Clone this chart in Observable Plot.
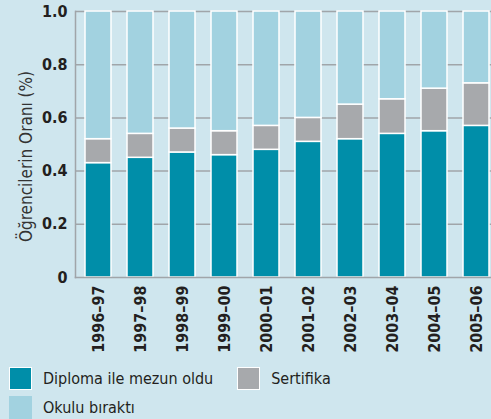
<!DOCTYPE html>
<html>
<head>
<meta charset="utf-8">
<script src="https://cdn.jsdelivr.net/npm/d3@7"></script>
<script src="https://cdn.jsdelivr.net/npm/@observablehq/plot@0.6"></script>
<style>
  html, body { margin: 0; padding: 0; background: #cfe6ee; }
  body { width: 491px; height: 419px; overflow: hidden; font-family: "DejaVu Sans Condensed", "DejaVu Sans", sans-serif; }
  #chart svg { display: block; background: transparent; }
  .legend { margin: 4px 0 0 9px; color: #231f20; font-size: 16px; }
  .row { display: flex; align-items: center; height: 29px; }
  .item { display: flex; align-items: center; margin-right: 24px; }
  .sw { width: 23px; height: 23px; box-sizing: border-box; border: 1px solid #fff; margin-right: 11px; }
</style>
</head>
<body>
<div id="chart"></div>
<div class="legend" id="legend"></div>
<script>
const years = ["1996–97","1997–98","1998–99","1999–00","2000–01","2001–02","2002–03","2003–04","2004–05","2005–06"];
const diploma = [0.43, 0.45, 0.47, 0.46, 0.48, 0.51, 0.52, 0.54, 0.55, 0.57];
const sertifika = [0.09, 0.09, 0.09, 0.09, 0.09, 0.09, 0.13, 0.13, 0.16, 0.16];
const okulu = [0.48, 0.46, 0.44, 0.45, 0.43, 0.40, 0.35, 0.33, 0.29, 0.27];
const seriesNames = ["Diploma ile mezun oldu", "Sertifika", "Okulu bıraktı"];
const seriesColors = ["#008ea9", "#a7a9ac", "#a2d2e0"];
const yTicks = [0, 0.2, 0.4, 0.6, 0.8, 1.0];
const yLabel = "Öğrencilerin Oranı (%)";

const seriesValues = [diploma, sertifika, okulu];
const data = [];
seriesNames.forEach((s, i) => years.forEach((y, j) => data.push({year: y, series: s, value: seriesValues[i][j]})));

const W = 491, H = 360;
const chart = Plot.plot({
  width: W, height: H,
  marginTop: 11, marginBottom: 83, marginLeft: 75, marginRight: 0,
  style: {fontFamily: '"DejaVu Sans Condensed", "DejaVu Sans", sans-serif', background: "transparent", color: "#231f20"},
  x: {domain: years, range: [75, 499], paddingInner: 0.387, paddingOuter: 0.19},
  y: {domain: [0, 1]},
  color: {domain: seriesNames, range: seriesColors},
  marks: [
    Plot.gridY(yTicks.filter(d => d > 0), {stroke: "#a0a5a9", strokeOpacity: 1, strokeWidth: 1.5}),
    Plot.barY(data, Plot.stackY({order: seriesNames}, {x: "year", y: "value", fill: "series", stroke: "#ffffff", strokeWidth: 1.5})),
    Plot.frame({anchor: "left", stroke: "#a0a5a9", strokeWidth: 1.5}),
    Plot.frame({anchor: "bottom", stroke: "#a0a5a9", strokeWidth: 1.5}),
    Plot.axisY({ticks: yTicks, tickSize: 0, tickPadding: 8, fontSize: 16, fontWeight: "bold",
      tickFormat: d => d === 0 ? "0" : d.toFixed(1), label: null}),
    Plot.text([yLabel], {frameAnchor: "left", textAnchor: "middle", rotate: -90, dx: -49, dy: 12, fontSize: 17, fill: "#333", text: d => d}),
    Plot.axisX({tickSize: 0, tickPadding: 8, tickRotate: -90, fontSize: 16, fontWeight: "bold", label: null})
  ]
});
document.getElementById("chart").appendChild(chart);

const legend = document.getElementById("legend");
const rows = [[0, 1], [2]];
rows.forEach(r => {
  const row = document.createElement("div");
  row.className = "row";
  r.forEach(i => {
    const item = document.createElement("div");
    item.className = "item";
    const sw = document.createElement("div");
    sw.className = "sw";
    sw.style.background = seriesColors[i];
    if (i === 2) sw.style.borderColor = seriesColors[i];
    const t = document.createElement("span");
    t.textContent = seriesNames[i];
    item.appendChild(sw); item.appendChild(t);
    row.appendChild(item);
  });
  legend.appendChild(row);
});
</script>
</body>
</html>
